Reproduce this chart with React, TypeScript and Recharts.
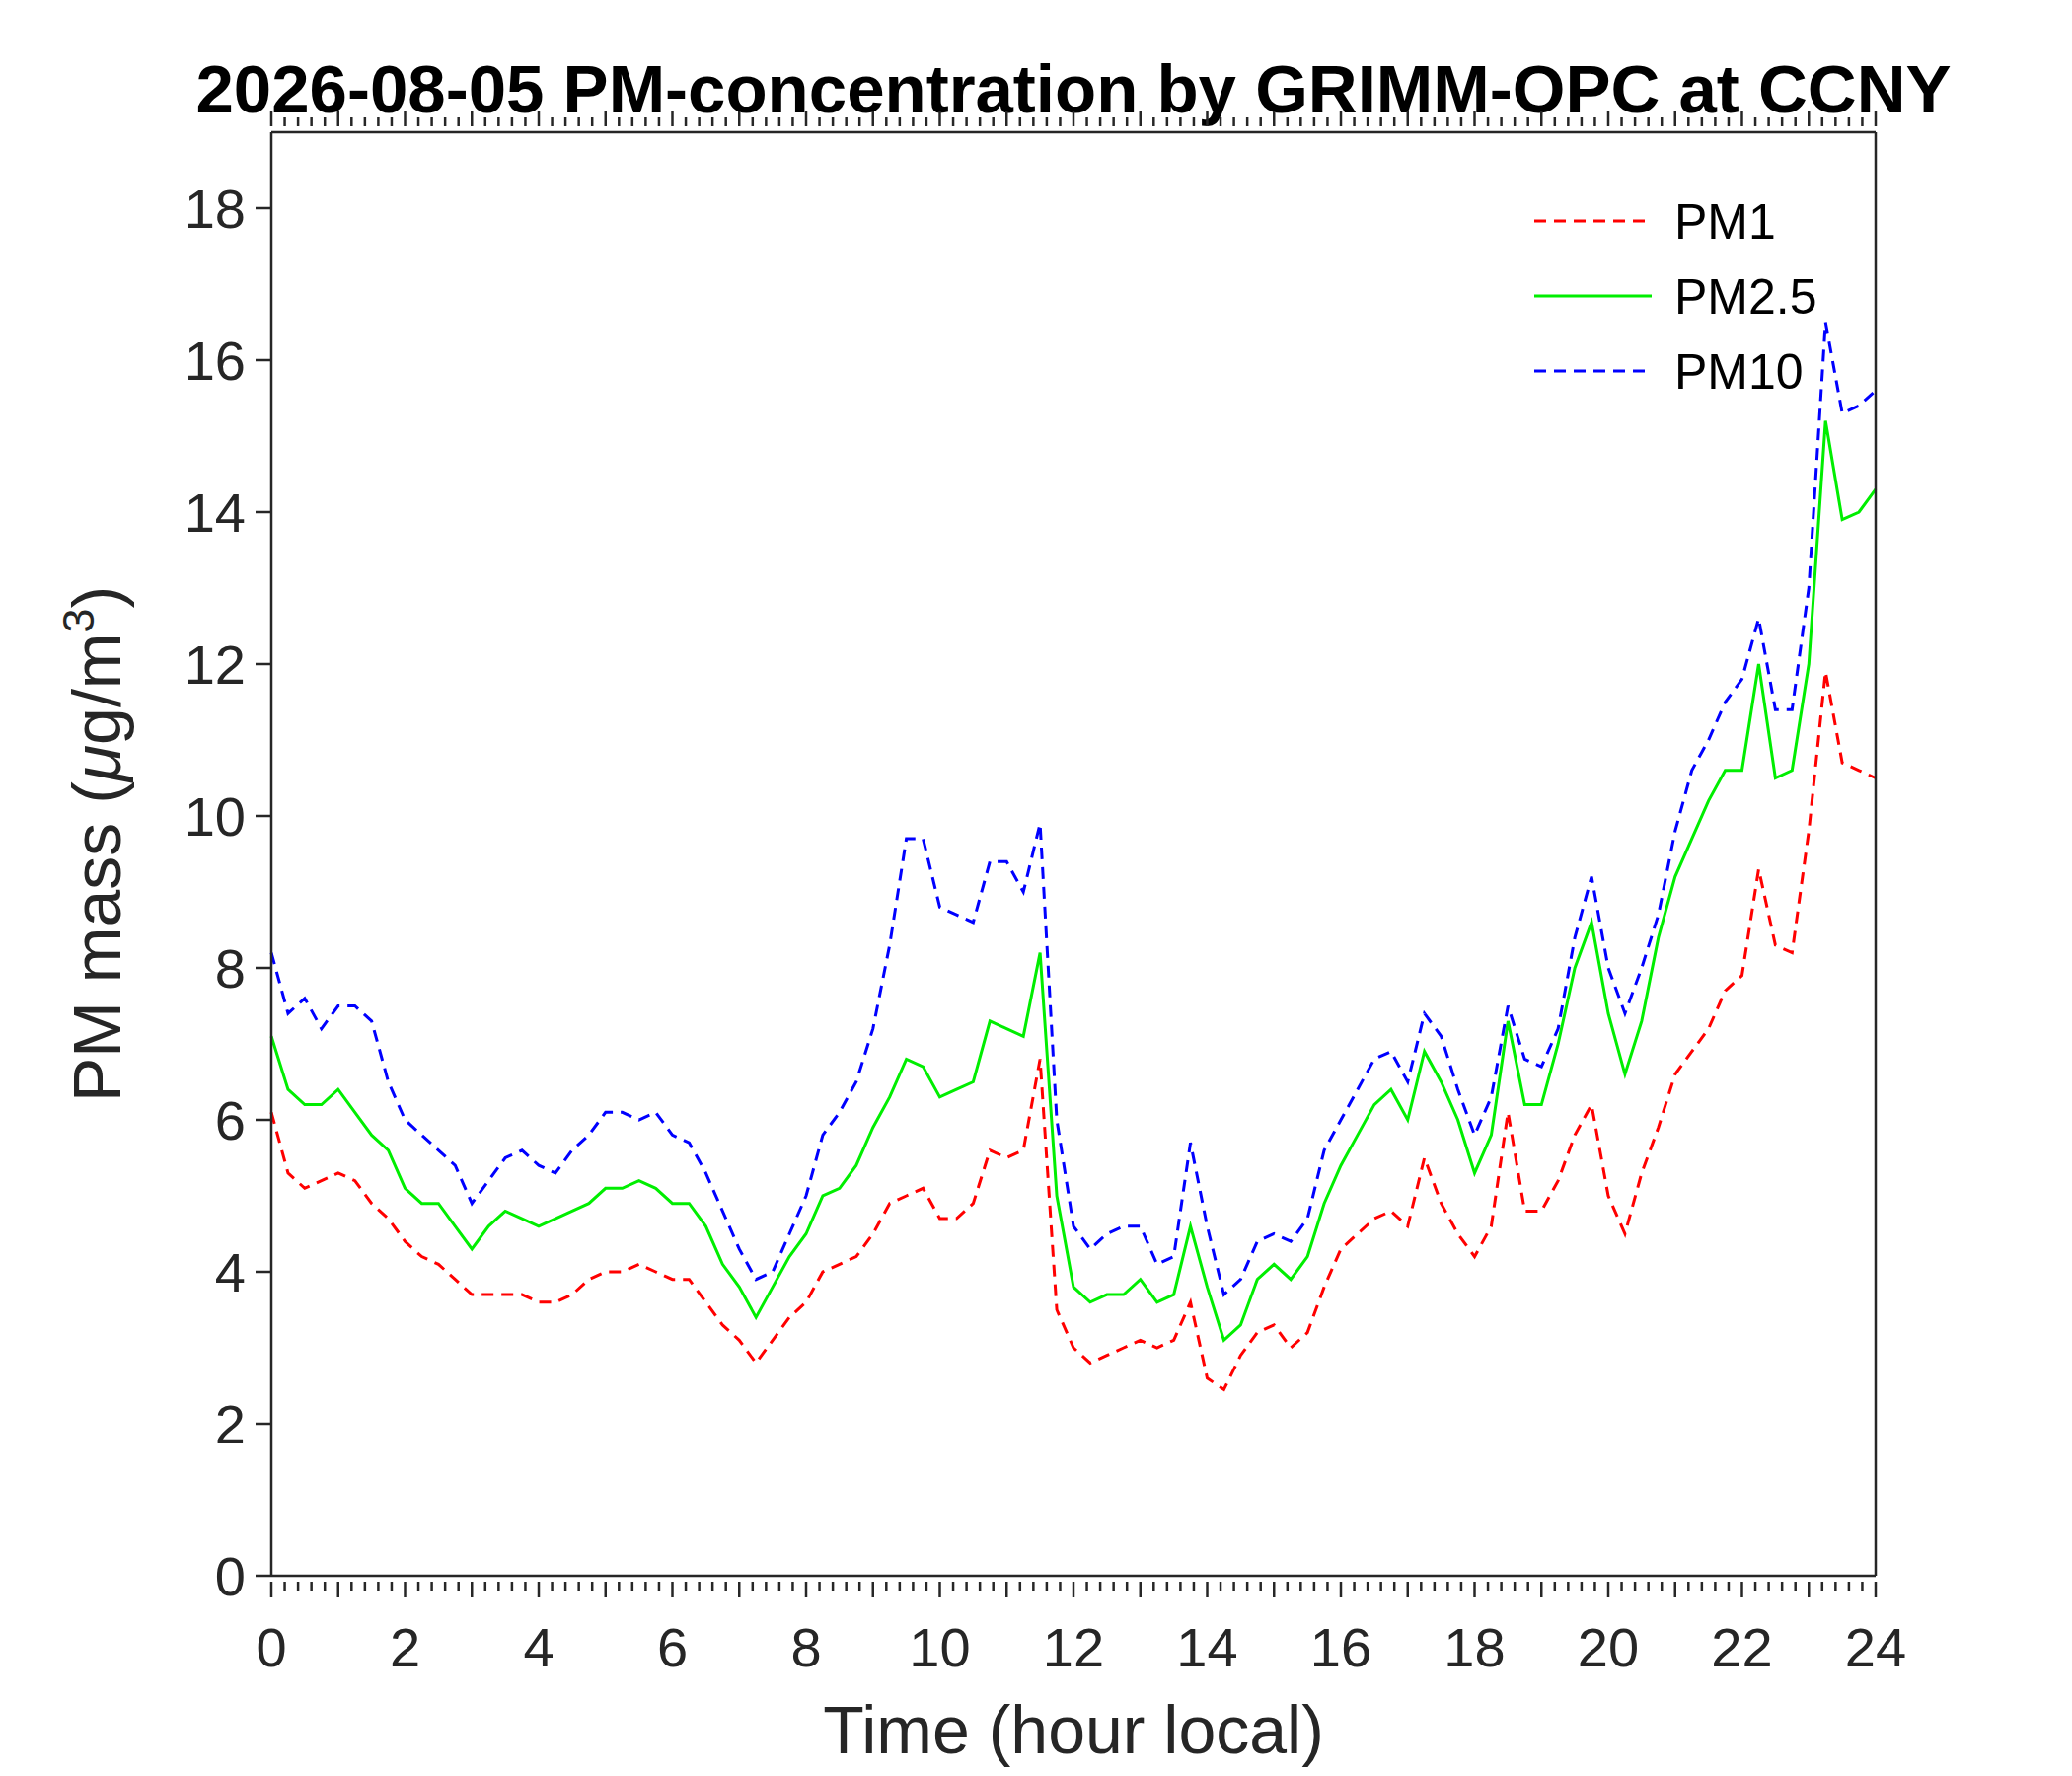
import React from 'react';
import { LineChart, Line, XAxis, YAxis } from 'recharts';

const hours = Array.from({ length: 97 }, (_, i) => i / 4);
const pm10 = [8.2,7.4,7.6,7.2,7.5,7.5,7.3,6.5,6.0,5.8,5.6,5.4,4.9,5.2,5.5,5.6,5.4,5.3,5.6,5.8,6.1,6.1,6.0,6.1,5.8,5.7,5.3,4.8,4.3,3.9,4.0,4.5,5.0,5.8,6.1,6.5,7.2,8.3,9.7,9.7,8.8,8.7,8.6,9.4,9.4,9.0,9.9,6.0,4.6,4.3,4.5,4.6,4.6,4.1,4.2,5.7,4.6,3.7,3.9,4.4,4.5,4.4,4.7,5.6,6.0,6.4,6.8,6.9,6.5,7.4,7.1,6.4,5.8,6.3,7.5,6.8,6.7,7.2,8.4,9.2,8.0,7.4,8.0,8.7,9.8,10.6,11.0,11.5,11.8,12.6,11.4,11.4,13.0,16.5,15.3,15.4,15.6];
const pm25 = [7.1,6.4,6.2,6.2,6.4,6.1,5.8,5.6,5.1,4.9,4.9,4.6,4.3,4.6,4.8,4.7,4.6,4.7,4.8,4.9,5.1,5.1,5.2,5.1,4.9,4.9,4.6,4.1,3.8,3.4,3.8,4.2,4.5,5.0,5.1,5.4,5.9,6.3,6.8,6.7,6.3,6.4,6.5,7.3,7.2,7.1,8.2,5.0,3.8,3.6,3.7,3.7,3.9,3.6,3.7,4.6,3.8,3.1,3.3,3.9,4.1,3.9,4.2,4.9,5.4,5.8,6.2,6.4,6.0,6.9,6.5,6.0,5.3,5.8,7.3,6.2,6.2,7.0,8.0,8.6,7.4,6.6,7.3,8.4,9.2,9.7,10.2,10.6,10.6,12.0,10.5,10.6,12.0,15.2,13.9,14.0,14.3];
const pm1 = [6.1,5.3,5.1,5.2,5.3,5.2,4.9,4.7,4.4,4.2,4.1,3.9,3.7,3.7,3.7,3.7,3.6,3.6,3.7,3.9,4.0,4.0,4.1,4.0,3.9,3.9,3.6,3.3,3.1,2.8,3.1,3.4,3.6,4.0,4.1,4.2,4.5,4.9,5.0,5.1,4.7,4.7,4.9,5.6,5.5,5.6,6.8,3.5,3.0,2.8,2.9,3.0,3.1,3.0,3.1,3.6,2.6,2.45,2.9,3.2,3.3,3.0,3.2,3.8,4.3,4.5,4.7,4.8,4.6,5.5,4.9,4.5,4.2,4.6,6.1,4.8,4.8,5.2,5.8,6.2,5.0,4.5,5.3,5.9,6.6,6.9,7.2,7.7,7.9,9.3,8.3,8.2,9.8,11.9,10.7,10.6,10.5];
const yTicks = [0,2,4,6,8,10,12,14,16,18];
const xTicks = Array.from({ length: 121 }, (_, i) => Math.round(i * 2) / 10);

const data = hours.map((h, i) => ({ h, pm1: pm1[i], pm25: pm25[i], pm10: pm10[i] }));
const FONT = '"Liberation Sans", Arial, sans-serif';
const AX = '#262626';

const BottomTick = (p: any) => {
  const v = p.payload.value;
  const major = Math.abs(v - Math.round(v)) < 1e-6;
  return (
    <g>
      <line x1={p.x} x2={p.x} y1={p.y - 2} y2={p.y - 2 + (major ? 16 : 9)} stroke={AX} strokeWidth={2.5} />
      {major && Math.round(v) % 2 === 0 ? (
        <text x={p.x} y={p.y + 84} textAnchor="middle" fontSize={56} fontFamily={FONT} fill={AX}>{Math.round(v)}</text>
      ) : null}
    </g>
  );
};
const TopTick = (p: any) => {
  const v = p.payload.value;
  const major = Math.abs(v - Math.round(v)) < 1e-6;
  return <line x1={p.x} x2={p.x} y1={p.y + 2} y2={p.y + 2 - (major ? 16 : 9)} stroke={AX} strokeWidth={2.5} />;
};

const YLabel = (props: any) => {
  const vb = props.viewBox;
  const cx = 122, cy = vb.y + vb.height / 2 - 10;
  return (
    <text x={cx} y={cy} transform={`rotate(-90 ${cx} ${cy})`} textAnchor="middle" fontSize={68} fontFamily={FONT} fill={AX}>
      PM mass (<tspan fontStyle="italic">μ</tspan>g/m<tspan dy={-27} fontSize={45}>3</tspan><tspan dy={27}>)</tspan>
    </text>
  );
};

export default function App() {
  return (
    <div style={{ position: 'absolute', left: 0, top: 0, width: 2100, height: 1800, background: '#fff' }}>
      <div style={{ position: 'absolute', left: 0, width: 2100, top: 56, textAlign: 'center', fontFamily: FONT, fontWeight: 'bold', fontSize: 69, color: '#000', lineHeight: 1 }}>
        <span style={{ position: 'relative', left: 38 }}>2026-08-05 PM-concentration by GRIMM-OPC at CCNY</span>
      </div>
      <LineChart width={2100} height={1800} data={data} margin={{ top: 134 - 30, right: 199 - 30, bottom: 203 - 80, left: 275 - 110 }}>
        <XAxis dataKey="h" type="number" domain={[0, 24]} ticks={xTicks} interval={0} tick={<BottomTick />} tickLine={false} axisLine={{ stroke: AX, strokeWidth: 2.5 }} height={80}
          label={{ value: 'Time (hour local)', position: 'insideBottom', offset: -100, fontSize: 68, fontFamily: FONT, fill: AX }} />
        <XAxis xAxisId="top" orientation="top" dataKey="h" type="number" domain={[0, 24]} ticks={xTicks} interval={0} tick={<TopTick />} tickLine={false} axisLine={{ stroke: AX, strokeWidth: 2.5 }} height={30} />
        <YAxis domain={[0, 19]} ticks={yTicks} interval={0} width={110} tickSize={16} tickLine={{ stroke: AX, strokeWidth: 2.5 }} axisLine={{ stroke: AX, strokeWidth: 2.5 }}
          tick={{ fontSize: 56, fontFamily: FONT, fill: AX }} tickMargin={10} label={<YLabel />} />
        <YAxis yAxisId="r" orientation="right" domain={[0, 19]} ticks={yTicks} interval={0} width={30} tickSize={16} tick={false} tickLine={{ stroke: AX, strokeWidth: 2.5 }} axisLine={{ stroke: AX, strokeWidth: 2.5 }} />
        <Line dataKey="pm1" stroke="#ff0000" strokeWidth={3} strokeDasharray="12 8" dot={false} isAnimationActive={false} />
        <Line dataKey="pm25" stroke="#00ee00" strokeWidth={3} dot={false} isAnimationActive={false} />
        <Line dataKey="pm10" stroke="#0000ff" strokeWidth={3} strokeDasharray="12 8" dot={false} isAnimationActive={false} />
      </LineChart>
      <svg style={{ position: 'absolute', left: 0, top: 0 }} width={2100} height={1800} pointerEvents="none">
        {[
          { n: 'PM1', c: '#ff0000', d: '12 8', y: 224 },
          { n: 'PM2.5', c: '#00ee00', d: undefined, y: 300 },
          { n: 'PM10', c: '#0000ff', d: '12 8', y: 376 },
        ].map((e) => (
          <g key={e.n}>
            <line x1={1555} x2={1674} y1={e.y} y2={e.y} stroke={e.c} strokeWidth={3} strokeDasharray={e.d} />
            <text x={1697} y={e.y + 18} fontSize={50} fontFamily={FONT} fill="#000">{e.n}</text>
          </g>
        ))}
      </svg>
    </div>
  );
}
